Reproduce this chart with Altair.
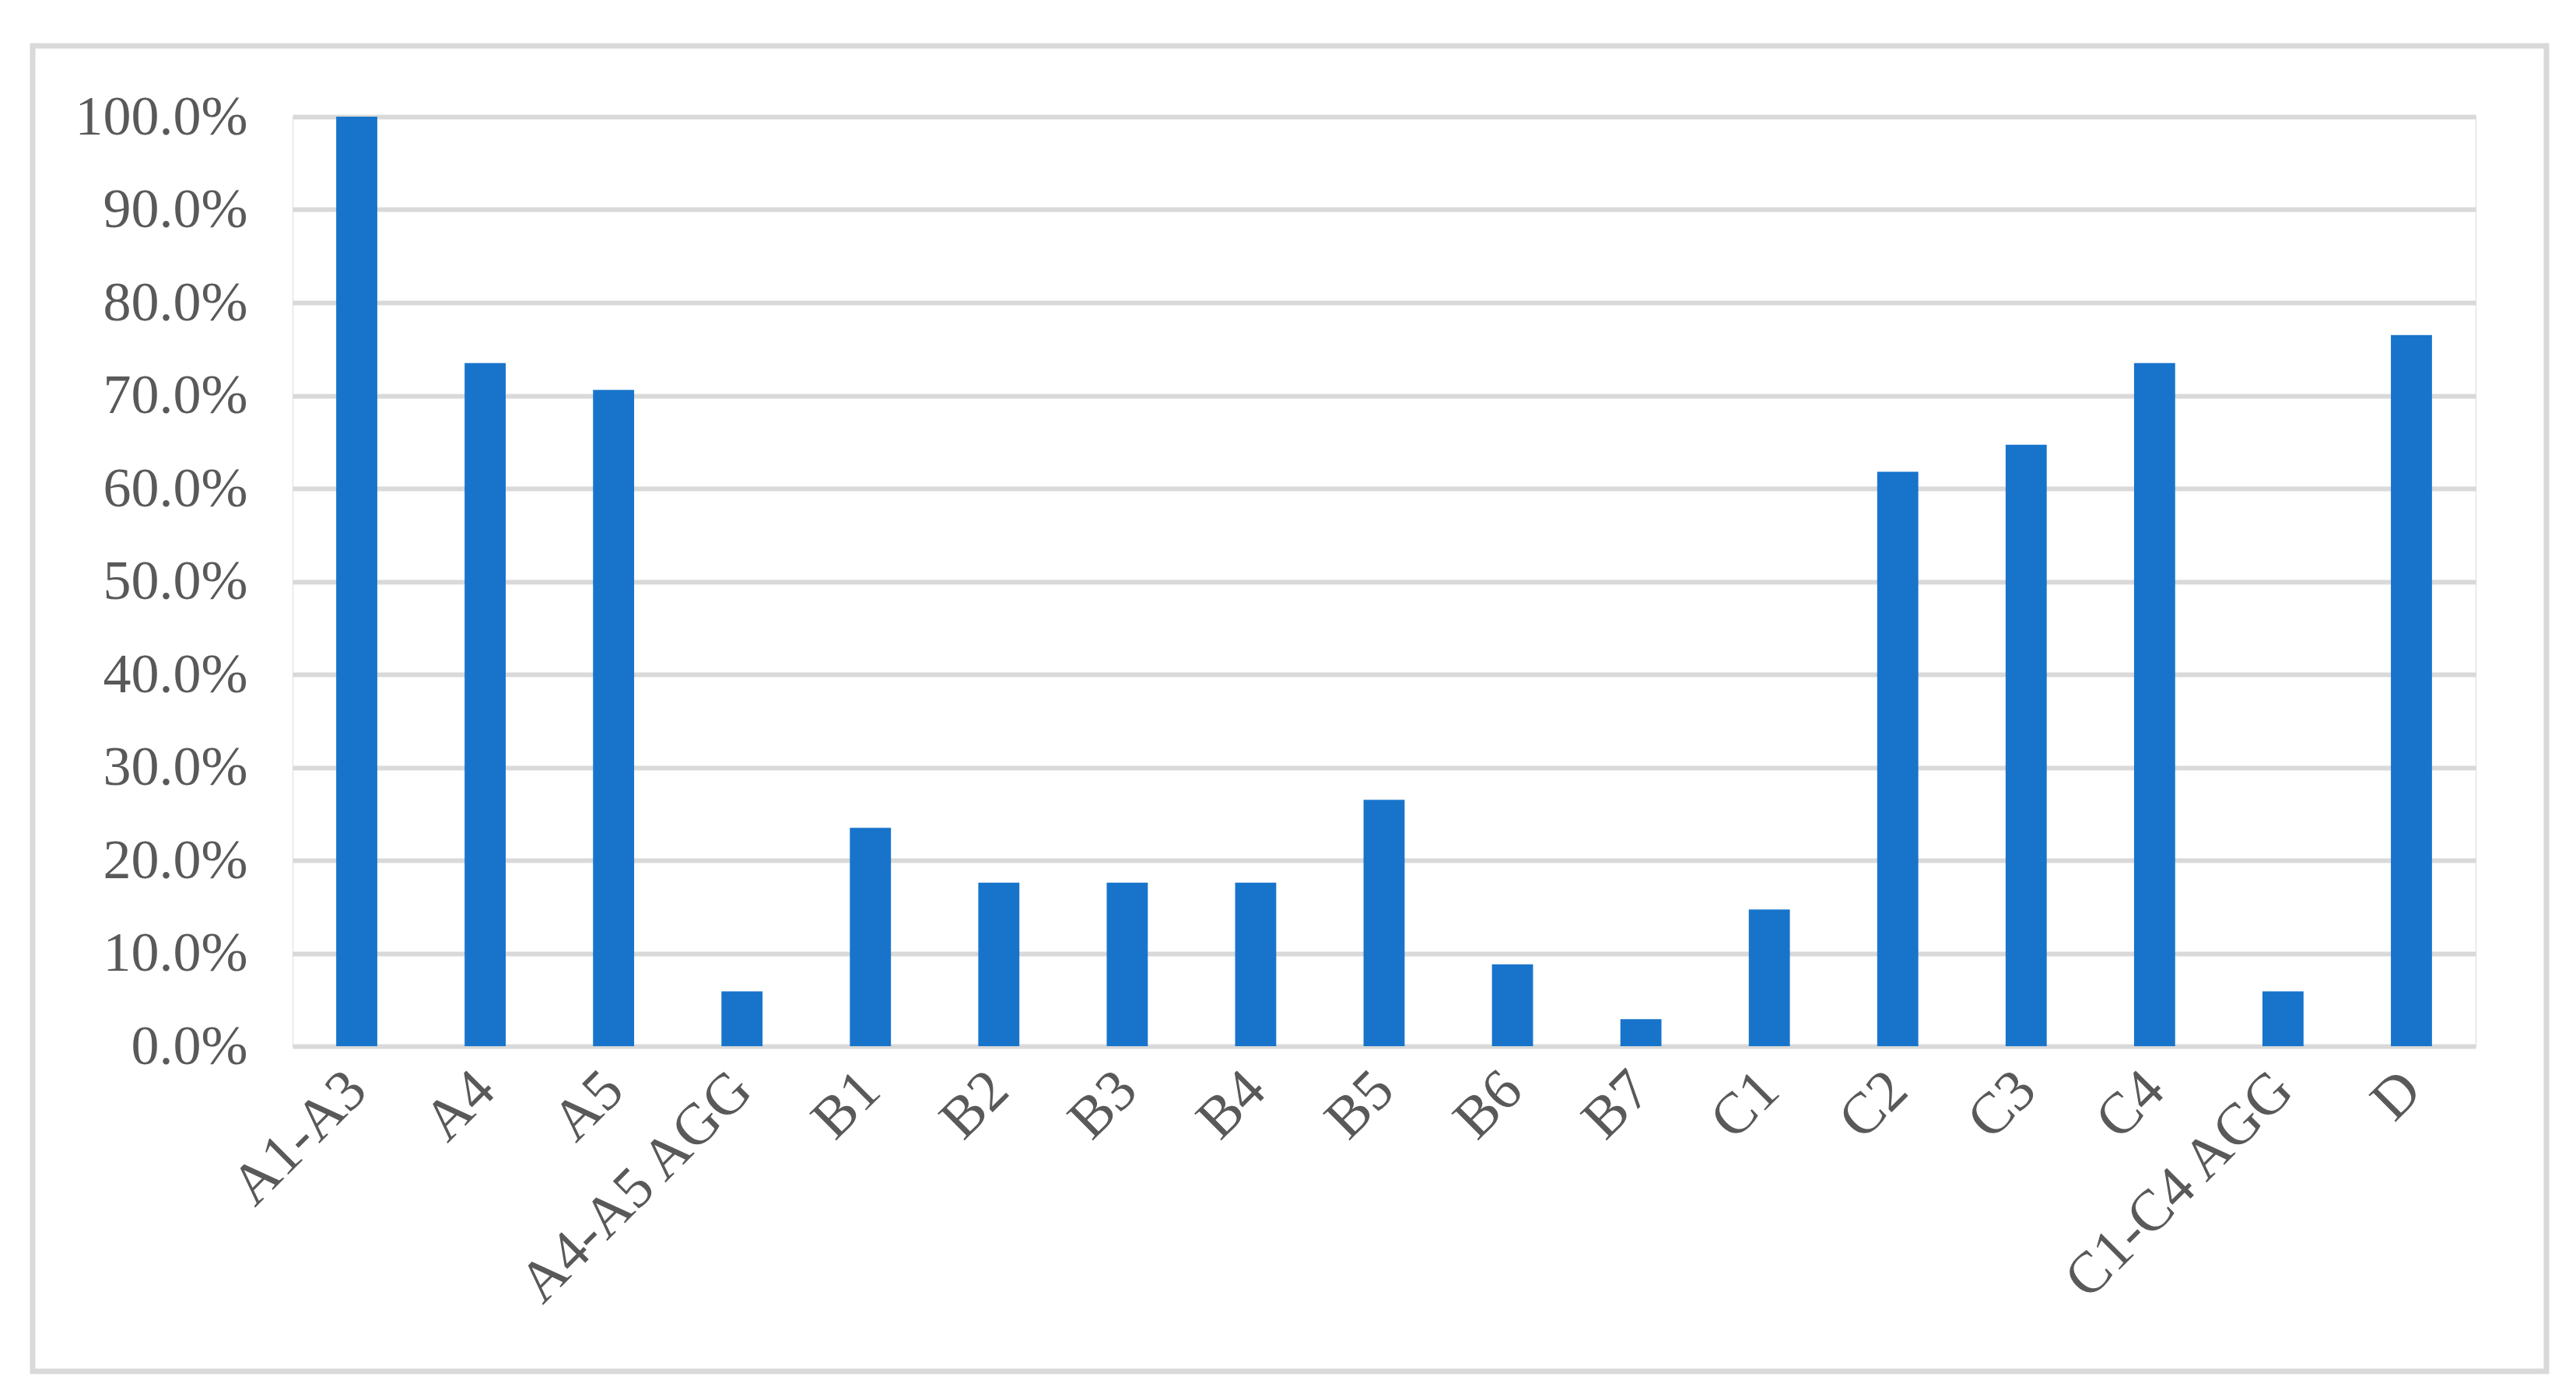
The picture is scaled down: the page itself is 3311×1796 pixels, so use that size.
import altair as alt
import pandas as pd

categories = ["A1-A3", "A4", "A5", "A4-A5 AGG", "B1", "B2", "B3", "B4", "B5",
              "B6", "B7", "C1", "C2", "C3", "C4", "C1-C4 AGG", "D"]
values = [1.000, 0.735, 0.706, 0.059, 0.235, 0.176, 0.176, 0.176, 0.265,
          0.088, 0.029, 0.147, 0.618, 0.647, 0.735, 0.059, 0.765]
y_ticks = [0.0, 0.1, 0.2, 0.3, 0.4, 0.5, 0.6, 0.7, 0.8, 0.9, 1.0]

df = pd.DataFrame({"cat": categories, "val": values})

FONT = "Liberation Serif"
GREY = "#595959"
W, H = 2806, 1195

bars = alt.Chart(df).mark_bar(color="#1874CB").encode(
    x=alt.X("cat:N", sort=categories, title=None,
            scale=alt.Scale(paddingInner=0.68, paddingOuter=0.34),
            axis=alt.Axis(labelAngle=-45, labelAlign="right", labelBaseline="middle",
                          labelFont=FONT, labelFontSize=75, labelColor=GREY,
                          labelPadding=44, ticks=False, domain=False, grid=False,
                          labelOverlap=False, labelLimit=0)),
    y=alt.Y("val:Q", title=None,
            scale=alt.Scale(domain=[0, 1], nice=False),
            axis=alt.Axis(values=y_ticks, format=".1%", labelFont=FONT,
                          labelFontSize=72, labelColor=GREY, labelPadding=58,
                          ticks=False, domain=False, grid=True, labelLimit=0,
                          gridColor="#D9D9D9", gridWidth=6)),
)

border = alt.Chart(df).mark_rect(fill=None, stroke="#D9D9D9", strokeWidth=7).encode(
    x=alt.value(-334), x2=alt.value(2897), y=alt.value(-91), y2=alt.value(1613)
).transform_filter(alt.datum.cat == "A1-A3")

chart = alt.layer(border, bars).properties(
    width=W, height=H,
    autosize=alt.AutoSizeParams(type="none"),
    padding={"left": 368, "top": 142, "right": 120, "bottom": 440},
).configure_view(stroke=None).configure(background="white")

chart.save("out.html", embed_options={"renderer": "svg", "actions": False})
